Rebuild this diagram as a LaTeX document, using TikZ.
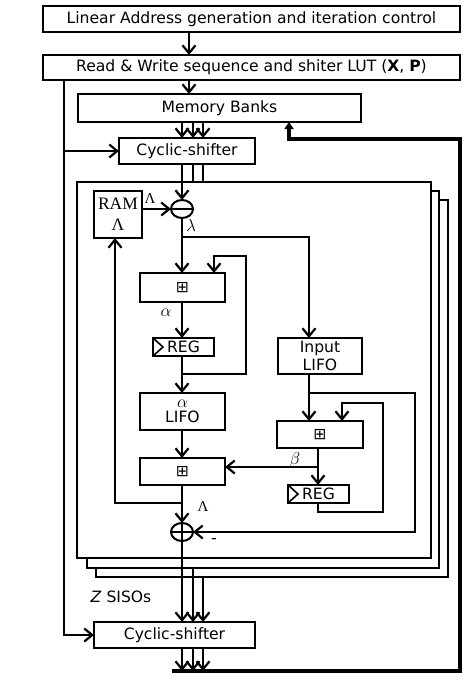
\documentclass[tikz,border=0pt]{standalone}
\usepackage{fontspec}
\setmainfont{DejaVu Sans}
\newfontfamily\serifff{Liberation Serif}
\usetikzlibrary{arrows.meta,shapes.geometric}
\begin{document}
\begin{tikzpicture}[x=1pt,y=-1pt,
  box/.style={draw,line width=2pt,fill=white,inner sep=0pt,outer sep=0pt,font=\fontsize{15.6}{18}\selectfont},
  sisobox/.style={draw,line width=1.8pt,fill=white,inner sep=0pt,outer sep=0pt},
  conn/.style={line width=2.2pt},
  arr/.style={conn,-{Straight Barb[length=8pt,width=13pt]}},
  bus/.style={line width=3.5pt,-{Triangle[length=7pt,width=9pt]}},
  opnode/.style={ellipse,draw,line width=2pt,fill=white,minimum width=22pt,minimum height=18pt,inner sep=0pt,outer sep=0pt},
  lbl/.style={inner sep=0pt,font=\fontsize{16}{16}\selectfont},
  clk/.style={line width=1.6pt}]
\useasboundingbox (0,0) rectangle (474,697);
% column coordinates
\coordinate (xa) at (182,0);
\coordinate (xb) at (193,0);
\coordinate (xc) at (203,0);
\coordinate (xtop) at (189,0);
\coordinate (xl) at (64,0);
\coordinate (xin) at (309,0);
\coordinate (xr) at (318,0);
\coordinate (xf1) at (214,0);
\coordinate (xf2) at (342,0);
\coordinate (xram) at (115,0);
\coordinate (xm) at (289,0);
% top boxes
\node[box,minimum width=417pt,minimum height=26pt] (lin) at (251.5,19) {Linear Address generation and iteration control};
\node[box,minimum width=417pt,minimum height=25pt] (rw) at (251.5,67.5) {Read \& Write sequence and shiter LUT (\textbf{X}, \textbf{P})};
\node[box,minimum width=283pt,minimum height=28pt] (mem) at (219.5,108) {Memory Banks};
\node[box,minimum width=136pt,minimum height=26pt] (cs1) at (187,151) {Cyclic-shifter};
% SISO stack
\node[sisobox,minimum width=352pt,minimum height=377pt] (s3) at (272,388.5) {};
\node[sisobox,minimum width=352pt,minimum height=377pt] (s2) at (263,379.5) {};
\node[sisobox,minimum width=354pt,minimum height=376pt] (s1) at (254,370) {};
% inner blocks
\node[box,minimum width=48pt,minimum height=47pt,align=center,font=\serifff\fontsize{17.5}{21}\selectfont] (ram) at (118,214.5) {RAM\\Λ};
\node[opnode] (mn) at (182,209) {};
\draw[clk] (mn.west) -- (mn.east);
\node[box,minimum width=85pt,minimum height=29pt] (add1) at (182.5,287.5) {⊞};
\node[box,minimum width=61pt,minimum height=18pt] (reg1) at (183.5,347) {REG};
\draw[clk] (reg1.north west) -- ++(10,9) -- (reg1.south west);
\node[box,minimum width=85pt,minimum height=37pt,align=center,font=\fontsize{15.6}{15}\selectfont] (alifo) at (182.5,411.5) {\fontsize{17}{15}\selectfont$\alpha$\\LIFO};
\node[box,minimum width=85pt,minimum height=27pt] (add2) at (182.5,471.5) {⊞};
\node[opnode] (pl) at (182,532) {};
\draw[clk] (pl.west) -- (pl.east) (pl.north) -- (pl.south);
\node[box,minimum width=84pt,minimum height=36pt,align=center] (inlifo) at (320,356) {Input\\LIFO};
\node[box,minimum width=86pt,minimum height=27pt] (add3) at (320,434.5) {⊞};
\node[box,minimum width=61pt,minimum height=18pt] (reg2) at (318.5,494) {REG};
\draw[clk] (reg2.north west) -- ++(10,9) -- (reg2.south west);
\node[box,minimum width=161pt,minimum height=26pt] (cs2) at (174.5,635) {Cyclic-shifter};
% labels
\node[lbl,font=\serifff\fontsize{15}{15}\selectfont] (lLamA) at (150,198.5) {Λ};
\node[lbl] (lLam) at (191,225) {$\lambda$};
\node[lbl] (lAlpha) at (166,313) {$\alpha$};
\node[lbl,font=\serifff\fontsize{15}{15}\selectfont] (lLamB) at (203,507) {Λ};
\node[lbl] (lMinus) at (214,541) {-};
\node[lbl] (lBeta) at (295,460) {$\beta$};
\node[inner sep=0pt,font=\fontsize{15.6}{18}\selectfont] (lZ) at (121,597) {\textit{Z} SISOs};
% top connectors
\draw[arr] (lin.south -| xtop) -- (rw.north -| xtop);
\draw[arr] (rw.south -| xtop) -- (mem.north -| xtop);
\foreach \c in {xa,xb,xc} \draw[arr] (mem.south -| \c) -- (cs1.north -| \c);
\draw[arr] (cs1.south -| xa) -- (mn.north);
\draw[conn] (cs1.south -| xb) -- (s1.north -| xb);
\draw[conn] (cs1.south -| xc) -- (s1.north -| xc);
% control line on the left
\draw[arr] (rw.south -| xl) -- (xl |- cs2.west) -- (cs2.west);
\draw[arr] (xl |- cs1.west) -- (cs1.west);
% RAM to subtractor
\draw[arr] (ram.east |- mn.west) -- (mn.west);
% lambda
\coordinate (jl) at (182,237);
\draw[arr] (mn.south) -- (jl) -- (add1.north -| xa);
\draw[arr] (jl) -- (xin |- jl) -- (inlifo.north -| xin);
% alpha recursion
\coordinate (ja) at (182,374);
\draw[arr] (add1.south -| xa) -- (reg1.north -| xa);
\draw[arr] (reg1.south -| xa) -- (alifo.north -| xa);
\draw[arr] (ja) -- (246,374) -- (246,256) -- (214,256) -- (xf1 |- add1.north);
\draw[arr] (alifo.south -| xa) -- (add2.north -| xa);
% Lambda out
\coordinate (jL) at (182,503);
\draw[arr] (add2.south -| xa) -- (pl.north);
\draw[arr] (jL) -- (115,503) -- (xram |- ram.south);
% beta recursion
\coordinate (jb) at (309,393);
\draw[arr] (inlifo.south -| xin) -- (add3.north -| xin);
\draw[arr] (jb) -- (415,393) -- (415,532) -- (pl.east);
\coordinate (jbeta) at (318,467);
\draw[arr] (add3.south -| xr) -- (reg2.north -| xr);
\draw[arr] (jbeta) -- (add2.east |- jbeta);
\draw[arr] (reg2.south -| xr) -- (318,512) -- (383,512) -- (383,403) -- (342,403) -- (xf2 |- add3.north);
% outputs
\draw[arr] (pl.south) -- (cs2.north -| xa);
\draw[arr] (s2.south -| xb) -- (cs2.north -| xb);
\draw[arr] (s3.south -| xc) -- (cs2.north -| xc);
\coordinate (busL) at (172,671);
\coordinate (busR) at (460,671);
\foreach \c in {xa,xb,xc} \draw[arr] (cs2.south -| \c) -- (busL -| \c);
\draw[bus] (busL) -- (busR) -- (460,139) -- (289,139) -- (xm |- mem.south);
\end{tikzpicture}
\end{document}
